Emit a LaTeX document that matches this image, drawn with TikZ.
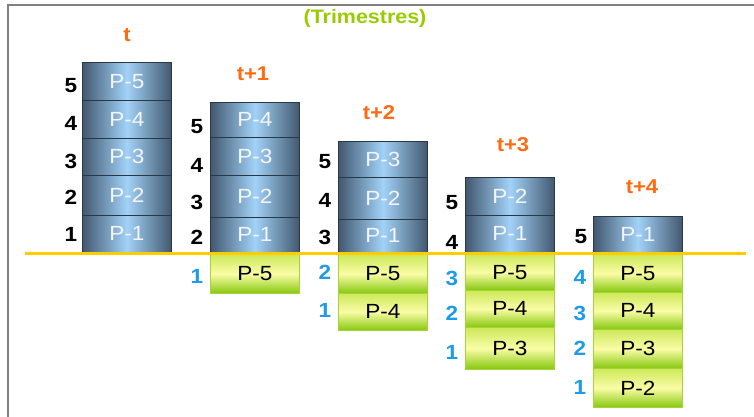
\documentclass[tikz,border=0pt]{standalone}
\usepackage{fontspec}
\setmainfont[FakeStretch=1.1]{Liberation Sans}
\definecolor{frame}{HTML}{808080}
\definecolor{gold}{HTML}{FFCC00}
\definecolor{orng}{HTML}{FF6A13}
\definecolor{lime}{HTML}{99CC00}
\definecolor{sky}{HTML}{1E9BE6}
\definecolor{slate}{HTML}{42586F}
\definecolor{ice}{HTML}{A2D2F8}
\definecolor{bline}{HTML}{2A3846}
\definecolor{gtop}{HTML}{CDE85A}
\definecolor{gmid}{HTML}{FAFCA6}
\definecolor{gbot}{HTML}{86C80E}
\definecolor{gline}{HTML}{A5D535}
\tikzset{
  x=1pt, y=-1pt,
  bluebox/.style={draw=bline, line width=0.8pt, left color=slate, right color=slate, middle color=ice,
    minimum width=89pt, inner sep=0pt, anchor=north west, text=white!96!blue,
    font=\fontsize{20.5}{20.5}\selectfont},
  greenbox/.style={draw=gline, line width=0.8pt, top color=gtop, bottom color=gbot, middle color=gmid,
    minimum width=89pt, inner sep=0pt, anchor=north west, text=black,
    font=\fontsize{20.5}{20.5}\selectfont},
  blknum/.style={text=black, font=\fontsize{20.5}{20.5}\selectfont\bfseries, inner sep=0pt},
  bluenum/.style={text=sky, font=\fontsize{20.5}{20.5}\selectfont\bfseries, inner sep=0pt},
  coltitle/.style={text=orng, font=\fontsize{20}{20}\selectfont\bfseries, inner sep=0pt},
}
\newcommand{\bb}[5]{\node[bluebox, minimum height=#4pt] (#1) at (#2,#3) {#5};}
\newcommand{\gb}[5]{\node[greenbox, minimum height=#4pt] (#1) at (#2,#3) {#5};}
\begin{document}
\begin{tikzpicture}
\useasboundingbox (0,0) rectangle (754,417);
% frame
\draw[frame, line width=2pt] (7.5,417) -- (7.5,5.5) -- (754,5.5);
% title
\node[text=lime, font=\fontsize{19.5}{19.5}\selectfont\bfseries, inner sep=0pt] (trim) at (365,18) {(Trimestres)};
% column t
\node[coltitle] (tt0) at (127,35) {t};
\bb{a5}{82}{62}{38}{P-5}
\bb{a4}{82}{100}{38}{P-4}
\bb{a3}{82}{138}{37}{P-3}
\bb{a2}{82}{175}{40}{P-2}
\bb{a1}{82}{215}{37}{P-1}
\node[blknum] (na5) at (71,86) {5};
\node[blknum] (na4) at (71,123) {4};
\node[blknum] (na3) at (71,161) {3};
\node[blknum] (na2) at (71,197) {2};
\node[blknum] (na1) at (71,234) {1};
% column t+1
\node[coltitle] (tt1) at (253,74) {t+1};
\bb{b5}{210}{102}{35}{P-4}
\bb{b4}{210}{137}{38}{P-3}
\bb{b3}{210}{175}{42}{P-2}
\bb{b2}{210}{217}{35}{P-1}
\gb{bg1}{210}{254}{39}{P-5}
\node[blknum] (nb5) at (197,127) {5};
\node[blknum] (nb4) at (197,165) {4};
\node[blknum] (nb3) at (197,202) {3};
\node[blknum] (nb2) at (197,237) {2};
\node[bluenum] (mb1) at (197,276) {1};
% column t+2
\node[coltitle] (tt2) at (379,113) {t+2};
\bb{c5}{338}{141}{36}{P-3}
\bb{c4}{338}{177}{42}{P-2}
\bb{c3}{338}{219}{33}{P-1}
\gb{cg2}{338}{254}{39}{P-5}
\gb{cg1}{338}{293}{37}{P-4}
\node[blknum] (nc5) at (325,162) {5};
\node[blknum] (nc4) at (325,200) {4};
\node[blknum] (nc3) at (325,237) {3};
\node[bluenum] (mc2) at (325,272) {2};
\node[bluenum] (mc1) at (325,310) {1};
% column t+3
\node[coltitle] (tt3) at (513,145) {t+3};
\bb{d5}{465}{177}{38}{P-2}
\bb{d4}{465}{215}{37}{P-1}
\gb{dg3}{465}{254}{36}{P-5}
\gb{dg2}{465}{290}{37}{P-4}
\gb{dg1}{465}{327}{42}{P-3}
\node[blknum] (nd5) at (452,203) {5};
\node[blknum] (nd4) at (452,242) {4};
\node[bluenum] (md3) at (452,278) {3};
\node[bluenum] (md2) at (452,313) {2};
\node[bluenum] (md1) at (452,352) {1};
% column t+4
\node[coltitle] (tt4) at (642,187) {t+4};
\bb{e5}{593}{216}{36}{P-1}
\gb{eg4}{593}{254}{38}{P-5}
\gb{eg3}{593}{292}{37}{P-4}
\gb{eg2}{593}{329}{39}{P-3}
\gb{eg1}{593}{368}{39}{P-2}
\node[blknum] (ne5) at (581,237) {5};
\node[bluenum] (me4) at (580,277) {4};
\node[bluenum] (me3) at (580,313) {3};
\node[bluenum] (me2) at (580,348) {2};
\node[bluenum] (me1) at (580,387) {1};
% baseline
\coordinate (bl) at (25,253);
\coordinate (br) at (746,253);
\draw[gold, line width=3pt] (bl) -- (br);
\end{tikzpicture}
\end{document}
